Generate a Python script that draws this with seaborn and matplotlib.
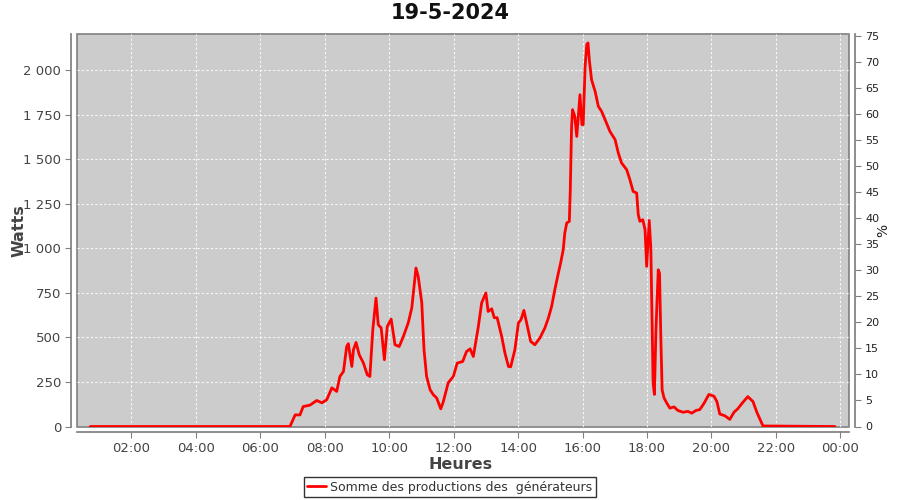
import matplotlib
matplotlib.use("Agg")
import matplotlib.pyplot as plt
import seaborn as sns
import pandas as pd
from matplotlib.ticker import FixedLocator, FuncFormatter

title = "19-5-2024"
series_name = "Somme des productions des  générateurs"

hours = [0.72, 6.92, 7.08, 7.23, 7.33, 7.54, 7.75, 7.91, 8.06, 8.22, 8.37, 8.47, 8.58,
         8.68, 8.73, 8.84, 8.89, 8.97, 9.07, 9.20, 9.32, 9.40, 9.49, 9.59, 9.66, 9.75,
         9.85, 9.94, 10.06, 10.18, 10.31, 10.44, 10.59, 10.70, 10.83, 10.90, 11.01,
         11.08, 11.16, 11.27, 11.37, 11.47, 11.60, 11.68, 11.83, 11.99, 12.11, 12.28,
         12.40, 12.51, 12.61, 12.76, 12.87, 13.00, 13.07, 13.18, 13.26, 13.35, 13.49,
         13.59, 13.70, 13.77, 13.90, 14.01, 14.09, 14.18, 14.30, 14.39, 14.52, 14.68,
         14.83, 14.94, 15.04, 15.14, 15.25, 15.32, 15.40, 15.45, 15.51, 15.59, 15.62,
         15.66, 15.69, 15.76, 15.82, 15.87, 15.92, 15.98, 16.02, 16.08, 16.13, 16.17,
         16.21, 16.28, 16.39, 16.49, 16.59, 16.70, 16.85, 17.01, 17.11, 17.21, 17.37,
         17.47, 17.57, 17.68, 17.73, 17.78, 17.87, 17.94, 17.99, 18.07, 18.12, 18.19,
         18.23, 18.28, 18.35, 18.39, 18.43, 18.47, 18.53, 18.62, 18.71, 18.84, 18.96,
         19.12, 19.27, 19.39, 19.52, 19.64, 19.77, 19.92, 20.08, 20.17, 20.26, 20.42,
         20.57, 20.70, 20.82, 20.95, 21.13, 21.29, 21.41, 21.51, 21.60, 23.83]

watts = [0, 0, 65, 65, 112, 120, 146, 133, 150, 217, 197, 281, 309,
         449, 465, 337, 431, 472, 403, 356, 290, 281, 543, 721, 571, 554,
         375, 562, 603, 459, 449, 506, 582, 665, 890, 843, 695,
         431, 281, 206, 178, 161, 99, 140, 245, 281, 356, 365,
         421, 436, 393, 554, 695, 750, 646, 661, 611, 611, 506,
         414, 337, 335, 431, 582, 600, 652, 554, 478, 459, 498,
         553, 609, 674, 768, 862, 918, 992, 1087, 1143, 1152, 1330,
         1685, 1779, 1742, 1629, 1742, 1863, 1695, 1695, 2022, 2144, 2154,
         2060, 1947, 1882, 1798, 1770, 1723, 1657, 1611, 1536, 1480, 1442,
         1386, 1320, 1311, 1189, 1152, 1161, 1105, 899, 1157, 1000, 245,
         180, 550, 880, 860, 500, 206, 160, 130, 103, 110, 90,
         80, 85, 75, 90, 95, 130, 180, 170, 140, 70, 60,
         40, 80, 100, 130, 168, 140, 80, 40, 3, 0]

left_ticks = [0, 250, 500, 750, 1000, 1250, 1500, 1750, 2000]
right_ticks = [0, 5, 10, 15, 20, 25, 30, 35, 40, 45, 50, 55, 60, 65, 70, 75]
x_ticks = [2, 4, 6, 8, 10, 12, 14, 16, 18, 20, 22, 24]
x_tick_labels = ["02:00", "04:00", "06:00", "08:00", "10:00", "12:00",
                 "14:00", "16:00", "18:00", "20:00", "22:00", "00:00"]

df = pd.DataFrame({"Heure": hours, "Watts": watts})

sns.set_theme(style="white")
plt.rcParams["font.family"] = ["DejaVu Sans"]

fig = plt.figure(figsize=(9, 5), dpi=100)
ax = fig.add_axes([77 / 900, 1 - 426.5 / 500, (849 - 77) / 900, (426.5 - 34) / 500])
ax.set_facecolor("#cccccc")

sns.lineplot(data=df, x="Heure", y="Watts", ax=ax, color="#ff0000", linewidth=2,
             label=series_name, legend=False)

ax.set_xlim(0.31, 24.27)
ax.set_ylim(0, 2204)
ax.xaxis.set_major_locator(FixedLocator(x_ticks))
ax.set_xticklabels(x_tick_labels)
ax.yaxis.set_major_locator(FixedLocator(left_ticks))
ax.yaxis.set_major_formatter(FuncFormatter(lambda v, p: f"{int(v):,}".replace(",", " ")))

ax.grid(True, color="white", linestyle=(0, (2, 2)), linewidth=0.8, alpha=0.9)
ax.set_axisbelow(True)

tick_color = "#444444"
for side in ["left", "bottom"]:
    ax.spines[side].set_position(("outward", 4))
    ax.spines[side].set_color("#808080")
for side in ["top", "right"]:
    ax.spines[side].set_visible(False)
ax.patch.set_edgecolor("#808080")
ax.patch.set_linewidth(1.2)

ax.tick_params(axis="both", which="major", direction="out", length=4, width=0.8,
               color="#808080", labelcolor=tick_color, labelsize=9.5, left=True, bottom=True)
ax.set_xlabel("Heures", fontsize=11.5, color=tick_color, fontweight="bold")
ax.xaxis.set_label_coords(0.497, -0.078)
ax.set_ylabel("Watts", fontsize=11.5, color=tick_color, fontweight="bold")
ax.yaxis.set_label_coords(-0.066, 0.5)

ax2 = ax.twinx()
ax2.set_ylim(0, 75.3)
ax2.yaxis.set_major_locator(FixedLocator(right_ticks))
for side in ["left", "bottom", "top"]:
    ax2.spines[side].set_visible(False)
ax2.spines["right"].set_position(("outward", 4))
ax2.spines["right"].set_color("#808080")
ax2.tick_params(axis="y", direction="out", length=4, width=0.8, color="#808080",
                labelcolor="#222222", labelsize=8, right=True)
ax2.set_ylabel("%", fontsize=10, color="#222222")
ax2.yaxis.set_label_coords(1.035, 0.5)
ax2.grid(False)

fig.suptitle(title, x=450 / 900, y=1 - 13 / 500, fontsize=15, fontweight="bold",
             color="#111111", va="center")

handles, labels = ax.get_legend_handles_labels()
leg = fig.legend(handles, labels, loc="center", bbox_to_anchor=(450 / 900, 1 - 487 / 500),
                 frameon=True, fancybox=False, edgecolor="black", fontsize=9,
                 handlelength=1.5, handletextpad=0.35, borderpad=0.3, borderaxespad=0)
leg.get_frame().set_linewidth(1.0)
for t in leg.get_texts():
    t.set_color("#333333")

fig.savefig("out.png", dpi=100, facecolor="white")
